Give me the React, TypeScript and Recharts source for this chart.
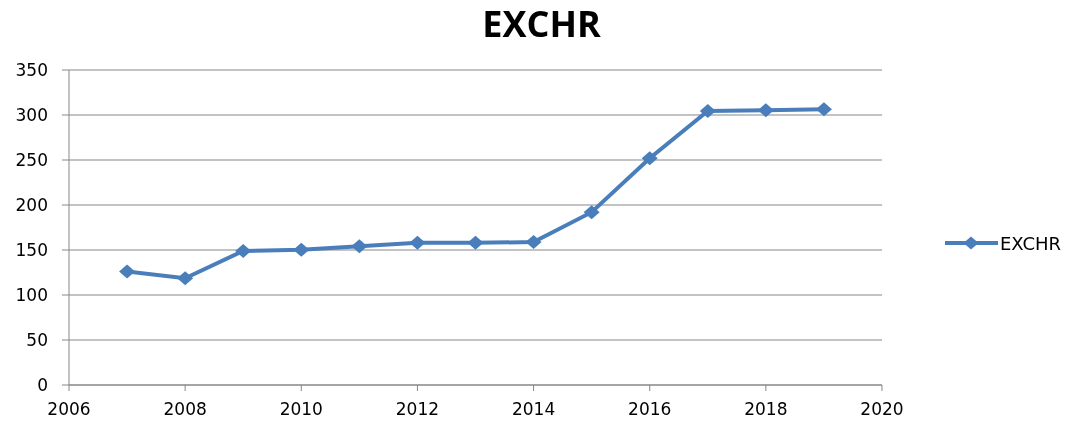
import { CartesianGrid, Line, LineChart, XAxis, YAxis } from "recharts";

const years = [2007, 2008, 2009, 2010, 2011, 2012, 2013, 2014, 2015, 2016, 2017, 2018, 2019];
const exchr = [126, 118.6, 149, 150.2, 154.3, 158, 158, 158.8, 192, 252, 304.5, 305.3, 306.3];
const xTicks = [2006, 2008, 2010, 2012, 2014, 2016, 2018, 2020];
const yTicks = [0, 50, 100, 150, 200, 250, 300, 350];

const data = years.map((year, i) => ({ year, EXCHR: exchr[i] }));

const blue = "#4a7ebb";
const gray = "#878787";
const font = "'DejaVu Sans', sans-serif";

function Diamond(props: any) {
  const { cx, cy } = props;
  if (cx == null || cy == null) return null;
  return (
    <path
      d={`M${cx - 8},${cy} L${cx},${cy - 7} L${cx + 8},${cy} L${cx},${cy + 7} Z`}
      fill={blue}
    />
  );
}

export default function App() {
  return (
    <div style={{ position: "fixed", left: 0, top: 0, width: 1068, height: 425, background: "#fff" }}>
      <div
        style={{
          position: "absolute",
          left: 0,
          width: 1083,
          top: 0,
          textAlign: "center",
          fontFamily: "'Open Sans', sans-serif",
          fontWeight: 700,
          fontSize: 36,
          lineHeight: "48px",
          color: "#000",
        }}
      >
        EXCHR
      </div>
      <LineChart width={1068} height={425} data={data} margin={{ top: 70, right: 186, left: 0, bottom: 0 }}>
        <CartesianGrid horizontal vertical={false} stroke={gray} />
        <XAxis
          dataKey="year"
          type="number"
          domain={[2006, 2020]}
          ticks={xTicks}
          height={40}
          stroke={gray}
          tickSize={6}
          tickMargin={12}
          tick={{ fill: "#000", fontSize: 17, fontFamily: font }}
        />
        <YAxis
          domain={[0, 350]}
          ticks={yTicks}
          width={69}
          stroke={gray}
          tickSize={7}
          tickMargin={14}
          tick={{ fill: "#000", fontSize: 17, fontFamily: font }}
        />
        <Line
          dataKey="EXCHR"
          stroke={blue}
          strokeWidth={4}
          dot={<Diamond />}
          activeDot={false}
          isAnimationActive={false}
        />
      </LineChart>
      <div style={{ position: "absolute", left: 945, top: 231, display: "flex", alignItems: "center" }}>
        <svg width={53} height={24}>
          <line x1={0} y1={12} x2={53} y2={12} stroke={blue} strokeWidth={4} />
          <path d="M18.5,12 L26,5.5 L33.5,12 L26,18.5 Z" fill={blue} />
        </svg>
        <span style={{ marginLeft: 2, fontFamily: font, fontSize: 18, color: "#000" }}>EXCHR</span>
      </div>
    </div>
  );
}
